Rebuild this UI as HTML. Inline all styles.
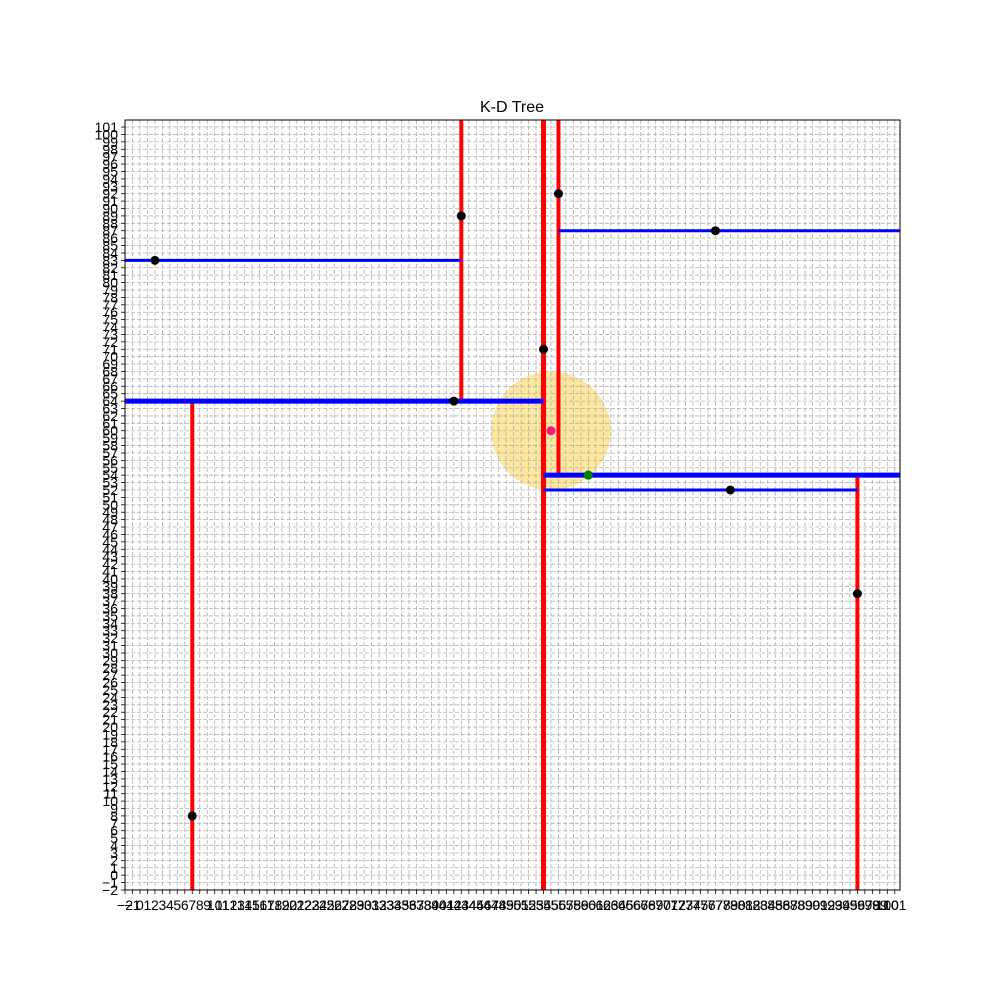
<!DOCTYPE html>
<html><head><meta charset="utf-8"><style>
html,body{margin:0;padding:0;background:#fff;}
svg{display:block;font-family:"Liberation Sans","DejaVu Sans",sans-serif;}
</style></head><body>
<svg id="chart" width="1000" height="1000" viewBox="0 0 1000 1000" xmlns="http://www.w3.org/2000/svg">
<text x="512" y="112" font-size="16" text-anchor="middle" fill="#000">K-D Tree</text>
</svg>
<script>
const pointsX = [2, 7, 43, 42, 54, 56, 77, 79, 96, 60];
const pointsY = [83, 8, 89, 64, 71, 92, 87, 52, 38, 54];
const queryX = [55];
const queryY = [60];
const nearestX = [60];
const nearestY = [54];
const searchRadius = [8];
const vSplitX = [54, 43, 56, 7, 96];
const vSplitY0 = [-2, 64, 54, -2, -2];
const vSplitY1 = [101.95, 101.95, 101.95, 64, 54];
const vSplitW = [5, 4, 4, 4, 4];
const hSplitY = [64, 54, 83, 87, 52];
const hSplitX0 = [-2, 54, -2, 56, 54];
const hSplitX1 = [54, 101.67, 43, 101.67, 96];
const hSplitW = [5, 5, 3, 3, 3];
const xTicks = []; for (let i = -2; i <= 101; i++) xTicks.push(i);
const yTicks = []; for (let i = -2; i <= 101; i++) yTicks.push(i);

const X0 = 125, X1 = 900, Y0 = 890, Y1 = 120;
const xMin = -2, xMax = 101.7, yMin = -2, yMax = 101.95;
const sx = v => X0 + (v - xMin) / (xMax - xMin) * (X1 - X0);
const sy = v => Y0 - (v - yMin) / (yMax - yMin) * (Y0 - Y1);
const svg = document.getElementById('chart');
const NS = 'http://www.w3.org/2000/svg';
function mk(tag, attrs) { const e = document.createElementNS(NS, tag); for (const k in attrs) e.setAttribute(k, attrs[k]); svg.appendChild(e); return e; }

const c = mk('ellipse', {cx: sx(queryX[0]), cy: sy(queryY[0]), rx: sx(searchRadius[0]) - sx(0), ry: sy(0) - sy(searchRadius[0]), fill: '#ffd54f', 'fill-opacity': 0.55});



xTicks.forEach(t => {
  const l = mk('line', {x1: sx(t), x2: sx(t), y1: Y1, y2: Y0, stroke: '#b0b0b0', 'stroke-width': 0.8, 'stroke-dasharray': '4,2'});
  
  
});
yTicks.forEach(t => {
  const l = mk('line', {x1: X0, x2: X1, y1: sy(t), y2: sy(t), stroke: '#b0b0b0', 'stroke-width': 0.8, 'stroke-dasharray': '4,2'});
  
  
});

vSplitX.forEach((x, i) => {
  const l = mk('line', {x1: sx(x), x2: sx(x), y1: sy(vSplitY0[i]), y2: sy(vSplitY1[i]), stroke: '#ff0000', 'stroke-width': vSplitW[i]});
  
  
});
hSplitY.forEach((y, i) => {
  const l = mk('line', {x1: sx(hSplitX0[i]), x2: sx(hSplitX1[i]), y1: sy(y), y2: sy(y), stroke: '#0000ff', 'stroke-width': hSplitW[i]});
  
  
});

pointsX.forEach((x, i) => {
  const p = mk('circle', {cx: sx(x), cy: sy(pointsY[i]), r: 4.5, fill: '#000'});
  
  
});
const g = mk('circle', {cx: sx(nearestX[0]), cy: sy(nearestY[0]), r: 4.5, fill: '#008000'});


const q = mk('circle', {cx: sx(queryX[0]), cy: sy(queryY[0]), r: 4.5, fill: '#ff1480'});



const f = mk('rect', {x: X0, y: Y1, width: X1 - X0, height: Y0 - Y1, fill: 'none', stroke: '#000', 'stroke-width': 1});



xTicks.forEach(t => {
  const l = mk('line', {x1: sx(t), x2: sx(t), y1: Y0, y2: Y0 + 4, stroke: '#000', 'stroke-width': 0.8});
  
  
  const tx = mk('text', {x: sx(t), y: Y0 + 20, 'font-size': 14, 'text-anchor': 'middle', fill: '#000'});
  tx.textContent = t < 0 ? '\u2212' + Math.abs(t) : String(t);
  
  
});
yTicks.forEach(t => {
  const l = mk('line', {x1: X0 - 4, x2: X0, y1: sy(t), y2: sy(t), stroke: '#000', 'stroke-width': 0.8});
  
  
  const tx = mk('text', {x: X0 - 7, y: sy(t) + 5, 'font-size': 14, 'text-anchor': 'end', fill: '#000'});
  tx.textContent = t < 0 ? '\u2212' + Math.abs(t) : String(t);
  
  
});
</script>
</body></html>
